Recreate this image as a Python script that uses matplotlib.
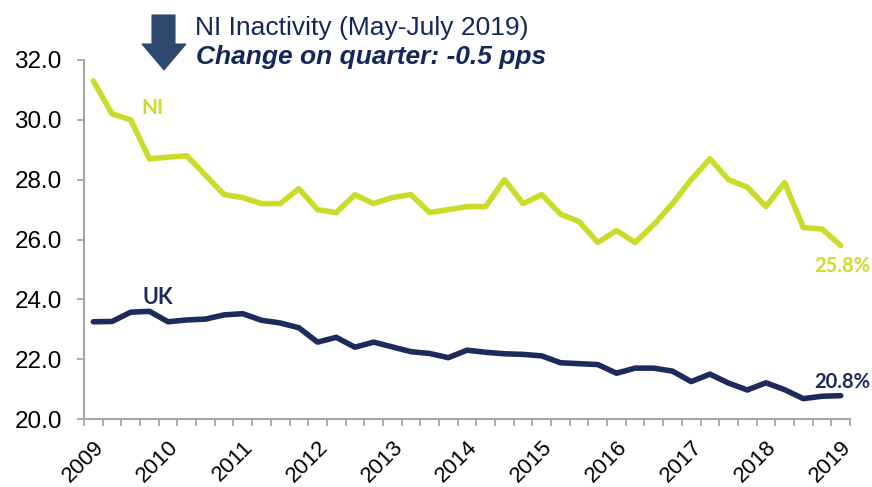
import matplotlib
matplotlib.use('Agg')
import matplotlib.pyplot as plt
import numpy as np
from matplotlib.patches import Polygon

# ---------------- data ----------------
years = [str(y) for y in range(2009, 2020)]
ni = [31.3, 30.2, 30.0, 28.7, 28.75, 28.8, 28.15, 27.5, 27.4, 27.2,
      27.2, 27.7, 27.0, 26.9, 27.5, 27.2, 27.4, 27.5, 26.9, 27.0,
      27.1, 27.1, 28.0, 27.2, 27.5, 26.85, 26.6, 25.9, 26.3, 25.9,
      26.5, 27.2, 28.0, 28.7, 28.0, 27.75, 27.1, 27.9, 26.4, 26.35,
      25.8]
uk = [23.25, 23.26, 23.57, 23.6, 23.25, 23.31, 23.34, 23.48, 23.52, 23.3,
      23.21, 23.05, 22.57, 22.73, 22.4, 22.57, 22.41, 22.25, 22.19, 22.05,
      22.3, 22.23, 22.18, 22.16, 22.11, 21.88, 21.85, 21.82, 21.53, 21.7,
      21.7, 21.6, 21.25, 21.5, 21.2, 20.97, 21.21, 20.98, 20.68, 20.76,
      20.78]
series_names = ['NI', 'UK']

# ---------------- style ----------------
NI_COL = '#cbdb2a'
UK_COL = '#1c2b5c'
NAVY = '#13275a'
GRID_GRAY = '#a6a6a6'
tick_font = 'Liberation Sans'
lab_font = 'Lato'

fig = plt.figure(figsize=(8.72, 4.87), dpi=100)
W, H = 872, 487
ax = fig.add_axes([84 / W, 1 - 419 / H, (850 - 84) / W, (419 - 60) / H])

x = np.arange(len(ni))
ax.plot(x, ni, color=NI_COL, lw=4.0, solid_joinstyle='round', solid_capstyle='round', zorder=3)
ax.plot(x, uk, color=UK_COL, lw=4.0, solid_joinstyle='round', solid_capstyle='round', zorder=3)

ax.set_xlim(-0.5, len(ni) - 0.5)
ax.set_ylim(20, 32)
ax.set_yticks(np.arange(20, 32.01, 2))
ax.set_yticklabels([f'{v:.1f}' for v in np.arange(20, 32.01, 2)],
                   fontfamily=tick_font, fontsize=17.5, color='black')
ax.set_xticks(np.arange(0, len(ni), 4))
ax.set_xticklabels(years, rotation=45, ha='right', va='top', rotation_mode='anchor',
                   fontfamily=tick_font, fontsize=16, color='black')
ax.set_xticks(np.arange(-0.5, len(ni)), minor=True)
ax.tick_params(axis='x', which='major', length=0, pad=13)
ax.tick_params(axis='x', which='minor', length=5, width=1.3, color=GRID_GRAY)
ax.tick_params(axis='y', which='major', length=5, width=1.3, color=GRID_GRAY, pad=11)

for s in ['top', 'right']:
    ax.spines[s].set_visible(False)
for s in ['left', 'bottom']:
    ax.spines[s].set_color(GRID_GRAY)
    ax.spines[s].set_linewidth(1.5)

# series labels
ax.text(2.56, 30.19, series_names[0], color=NI_COL, fontfamily=lab_font,
        fontweight='bold', fontsize=15, ha='left', va='baseline')
ax.text(2.65, 23.84, series_names[1], color=UK_COL, fontfamily=lab_font,
        fontweight='bold', fontsize=15.5, ha='left', va='baseline')
ax.text(40.1, 24.92, f'{ni[-1]:.1f}%', color=NI_COL, fontfamily=lab_font,
        fontweight='bold', fontsize=14.5, ha='center', va='baseline', clip_on=False)
ax.text(40.1, 21.02, f'{uk[-1]:.1f}%', color=UK_COL, fontfamily=lab_font,
        fontweight='bold', fontsize=14.5, ha='center', va='baseline', clip_on=False)

# header
fig.text(195 / W, 1 - 35 / H, 'NI Inactivity (May-July 2019)', color=NAVY,
         fontfamily=tick_font, fontsize=19, ha='left', va='baseline')
fig.text(196 / W, 1 - 64 / H, 'Change on quarter: -0.5 pps', color=NAVY,
         fontfamily=tick_font, fontsize=19, fontweight='bold', fontstyle='italic',
         ha='left', va='baseline')

# down arrow
pts = [(152, 15), (175, 15), (175, 44), (186, 44), (164, 70), (142, 44), (152, 44)]
poly = Polygon([(px / W, 1 - py / H) for px, py in pts], closed=True,
               transform=fig.transFigure, facecolor='#2d4a6e', edgecolor='#2d4a6e', lw=0.8)
fig.add_artist(poly)

fig.savefig('out.png', dpi=100)
